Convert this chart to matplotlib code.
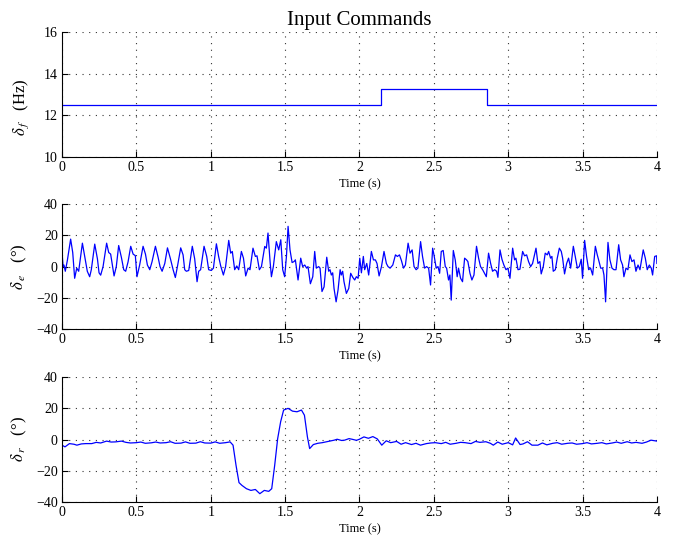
import matplotlib
matplotlib.use('Agg')
import matplotlib.pyplot as plt

plt.rcParams['font.family'] = ['Liberation Serif', 'DejaVu Serif']
plt.rcParams['mathtext.fontset'] = 'stix'

# flapping frequency command (Hz), a step input
t_f = [0.0, 2.143, 2.143, 2.86, 2.86, 4.0]
d_f = [12.5, 12.5, 13.27, 13.27, 12.5, 12.5]

# elevator command (deg)
t_e = [0.000, 0.007, 0.013, 0.022, 0.036, 0.058, 0.072, 0.085, 0.099, 0.112,
       0.137, 0.152, 0.170, 0.186, 0.197, 0.220, 0.238, 0.249, 0.260, 0.276,
       0.300, 0.314, 0.327, 0.350, 0.365, 0.381, 0.399, 0.415, 0.428, 0.444,
       0.462, 0.478, 0.493, 0.504, 0.522, 0.545, 0.561, 0.574, 0.590, 0.605,
       0.628, 0.646, 0.659, 0.673, 0.691, 0.709, 0.729, 0.747, 0.762, 0.776,
       0.798, 0.814, 0.825, 0.836, 0.852, 0.876, 0.892, 0.908, 0.919, 0.932,
       0.955, 0.973, 0.986, 1.004, 1.018, 1.038, 1.053, 1.067, 1.085, 1.100,
       1.121, 1.134, 1.145, 1.161, 1.175, 1.188, 1.206, 1.220, 1.235, 1.251,
       1.264, 1.284, 1.300, 1.311, 1.327, 1.341, 1.363, 1.374, 1.385, 1.399,
       1.408, 1.421, 1.441, 1.457, 1.471, 1.484, 1.497, 1.509, 1.520, 1.533,
       1.547, 1.560, 1.569, 1.587, 1.605, 1.618, 1.632, 1.645, 1.654, 1.670,
       1.686, 1.699, 1.710, 1.726, 1.735, 1.748, 1.762, 1.780, 1.793, 1.802,
       1.811, 1.820, 1.829, 1.843, 1.856, 1.870, 1.878, 1.887, 1.896, 1.912,
       1.928, 1.941, 1.955, 1.968, 1.979, 1.991, 2.002, 2.013, 2.026, 2.035,
       2.049, 2.062, 2.080, 2.094, 2.107, 2.118, 2.132, 2.148, 2.165, 2.181,
       2.192, 2.206, 2.224, 2.242, 2.255, 2.269, 2.282, 2.296, 2.309, 2.327,
       2.340, 2.354, 2.367, 2.381, 2.393, 2.411, 2.424, 2.438, 2.451, 2.465,
       2.478, 2.492, 2.501, 2.516, 2.528, 2.539, 2.550, 2.563, 2.577, 2.586,
       2.599, 2.608, 2.617, 2.631, 2.644, 2.657, 2.666, 2.680, 2.693, 2.707,
       2.720, 2.729, 2.743, 2.756, 2.770, 2.787, 2.801, 2.814, 2.828, 2.841,
       2.853, 2.868, 2.882, 2.895, 2.909, 2.922, 2.931, 2.945, 2.958, 2.971,
       2.985, 2.998, 3.012, 3.030, 3.043, 3.052, 3.066, 3.079, 3.097, 3.110,
       3.124, 3.137, 3.151, 3.164, 3.187, 3.200, 3.213, 3.222, 3.236, 3.249,
       3.263, 3.272, 3.285, 3.294, 3.303, 3.317, 3.330, 3.344, 3.357, 3.366,
       3.379, 3.393, 3.406, 3.420, 3.438, 3.451, 3.465, 3.478, 3.491, 3.500,
       3.514, 3.527, 3.541, 3.554, 3.568, 3.586, 3.599, 3.608, 3.622, 3.635,
       3.644, 3.655, 3.671, 3.684, 3.698, 3.711, 3.725, 3.743, 3.756, 3.769,
       3.778, 3.792, 3.805, 3.819, 3.832, 3.846, 3.859, 3.873, 3.886, 3.908,
       3.922, 3.935, 3.949, 3.962, 3.971, 3.985, 3.998, 4.000]
d_e = [9.7, 0.0, 1.0, -3.0, 4.0, 17.6, 9.0, -7.5, -1.0, -3.0,
       15.0, 7.0, -3.0, -6.5, -2.0, 14.4, 5.0, -4.0, -5.5, 0.0,
       15.0, 9.0, 8.0, -6.0, 0.0, 13.5, 6.0, -2.0, -3.0, 3.0,
       13.0, 8.0, 7.0, -6.5, 1.0, 13.0, 8.0, 1.0, -2.0, 3.0,
       13.0, 6.0, 0.0, -3.0, 2.0, 12.0, 5.0, -2.0, -7.0, 0.0,
       12.0, 7.5, -2.0, -3.0, -2.5, 13.0, 5.0, -9.7, -3.0, -2.0,
       13.0, 6.5, -2.0, -2.5, -1.0, 14.6, 6.5, 0.4, -5.4, 0.0,
       16.8, 8.6, 9.7, -2.0, 0.4, -2.0, 9.7, 5.4, -6.0, -1.0,
       -2.0, 11.8, 6.5, 6.9, -2.0, 0.0, 12.9, 11.8, 21.5, 3.2,
       -6.5, 0.0, 16.0, 10.7, 17.2, -2.0, -6.5, 6.5, 25.8, 10.7,
       2.6, 3.2, 4.3, -8.6, 5.4, 0.0, 1.0, -1.0, 0.0, -11.0,
       -6.5, 9.7, -1.0, 0.0, -1.0, -16.0, -13.0, 6.0, -3.0, -2.0,
       -5.4, -4.0, -14.0, -22.6, -15.0, -2.0, -5.4, -3.0, -9.7, -17.2,
       -14.0, -4.3, -6.9, -8.6, -6.5, -7.5, 5.4, -4.0, 6.5, -2.0,
       2.0, -5.4, 9.7, 4.3, 4.3, 2.0, -6.0, 0.0, 9.7, 2.0,
       0.0, -1.0, 1.0, 7.5, 6.5, 7.5, 3.9, -1.0, 1.0, 15.0,
       8.6, 10.7, 0.0, -2.0, -1.0, 16.0, 6.5, -1.0, 0.0, -1.0,
       -11.8, 11.8, 7.5, -1.0, 0.0, -4.3, 9.7, 10.3, 0.0, -1.0,
       -8.6, -5.4, -21.5, 10.3, 4.3, -6.5, -1.0, -7.5, -9.7, 5.4,
       4.3, 3.2, -4.3, -8.6, -5.4, 13.0, 5.4, 0.0, -2.0, -4.3,
       -6.5, 8.6, 2.0, -3.0, -2.0, -3.0, -6.9, 10.7, 4.7, 1.0,
       -2.0, -1.0, -7.5, 11.8, 4.3, 5.4, -2.0, -1.7, 9.7, 6.9,
       7.5, 3.2, 0.0, 2.0, 11.8, 2.0, 3.2, -4.7, 0.0, 8.6,
       7.5, 9.7, 5.4, 6.5, -3.0, -2.0, 5.4, 11.8, 9.7, 5.4,
       -4.7, 2.0, 5.4, -1.0, 13.0, 6.5, -1.0, 0.0, 4.7, -7.5,
       16.8, 6.5, -2.0, -1.0, -5.4, 13.0, 7.5, 4.3, -1.0, -1.0,
       -5.4, -22.6, 15.5, 4.3, -1.0, -2.0, -2.0, 14.0, 4.3, 1.0,
       -6.5, -1.0, -2.0, 7.5, 3.2, 4.3, -3.0, 1.0, -2.0, 10.7,
       5.4, -2.0, 1.0, -1.0, -5.4, 6.5, 6.9, 2.0]

# rudder command (deg)
t_r = [0.0, 0.02, 0.05, 0.08, 0.1, 0.13, 0.16, 0.2, 0.23, 0.26,
       0.3, 0.33, 0.36, 0.4, 0.43, 0.46, 0.5, 0.53, 0.56, 0.6,
       0.63, 0.66, 0.7, 0.73, 0.76, 0.8, 0.83, 0.86, 0.9, 0.93,
       0.96, 1.0, 1.03, 1.06, 1.1, 1.13, 1.15, 1.17, 1.19, 1.21,
       1.24, 1.27, 1.30, 1.33, 1.36, 1.39, 1.41, 1.43, 1.45, 1.47,
       1.49, 1.52, 1.55, 1.58, 1.61, 1.63, 1.65, 1.665, 1.69, 1.72,
       1.75, 1.78, 1.8, 1.83, 1.85, 1.88, 1.9, 1.93, 1.95, 1.98,
       2.0, 2.03, 2.06, 2.09, 2.12, 2.15, 2.18, 2.21, 2.25, 2.28,
       2.31, 2.35, 2.38, 2.41, 2.45, 2.48, 2.51, 2.55, 2.58, 2.61,
       2.65, 2.68, 2.71, 2.75, 2.78, 2.81, 2.85, 2.88, 2.9, 2.93,
       2.96, 3.0, 3.03, 3.05, 3.08, 3.1, 3.13, 3.16, 3.2, 3.23,
       3.26, 3.3, 3.33, 3.36, 3.4, 3.43, 3.46, 3.5, 3.53, 3.56,
       3.6, 3.63, 3.66, 3.7, 3.73, 3.76, 3.8, 3.83, 3.86, 3.9,
       3.93, 3.96, 4.0]
d_r = [-3.6, -4.7, -2.6, -3.0, -3.6, -2.8, -2.6, -2.6, -1.8, -2.2,
       -1.0, -1.6, -1.5, -1.0, -1.8, -2.2, -2.0, -1.6, -2.4, -2.1,
       -1.6, -2.2, -2.0, -1.4, -2.4, -2.3, -1.5, -2.4, -2.3, -1.4,
       -2.2, -2.3, -1.5, -2.4, -2.0, -1.5, -3.6, -16.5, -27.6, -29.4,
       -31.5, -32.6, -32.0, -34.7, -32.6, -33.2, -31.5, -16.5, 0.6, 11.4,
       18.9, 20.0, 18.2, 17.8, 18.9, 15.6, 1.7, -5.8, -3.2, -2.4,
       -2.0, -1.4, -1.0, -0.4, 0.2, -0.6, -0.4, 0.6, 0.2, -0.5,
       0.2, 1.7, 0.8, 1.9, 0.4, -3.6, -0.8, -2.0, -1.2, -3.0,
       -2.0, -3.2, -2.4, -3.6, -2.6, -2.2, -2.0, -2.6, -1.8, -3.0,
       -2.4, -1.8, -2.0, -2.6, -1.2, -1.8, -1.4, -2.4, -3.6, -1.6,
       -3.0, -2.0, -3.4, 1.0, -3.2, -2.8, -1.4, -3.6, -3.6, -2.2,
       -3.4, -2.4, -2.0, -3.0, -2.4, -2.2, -3.0, -2.6, -2.0, -2.8,
       -2.4, -2.0, -2.8, -2.2, -1.6, -2.4, -1.4, -2.2, -1.8, -2.4,
       -1.6, -0.4, -1.0]

xticks = [0, 0.5, 1, 1.5, 2, 2.5, 3, 3.5, 4]
xticklabels = ['0', '0.5', '1', '1.5', '2', '2.5', '3', '3.5', '4']

fig = plt.figure(figsize=(6.83, 5.38), dpi=100)
left, width = 0.0908, 0.871
bottoms = [0.708, 0.3885, 0.067]
height = 0.232

panels = [
    (t_f, d_f, [10, 16], [10, 12, 14, 16], r'$\delta_{\,f}$   (Hz)'),
    (t_e, d_e, [-40, 40], [-40, -20, 0, 20, 40], r'$\delta_{\,e}$   (°)'),
    (t_r, d_r, [-40, 40], [-40, -20, 0, 20, 40], r'$\delta_{\,r}$   (°)'),
]

axes = []
for b, (t, d, ylim, yticks, ylab) in zip(bottoms, panels):
    ax = fig.add_axes([left, b, width, height])
    ax.plot(t, d, color='#0000ff', lw=0.9)
    ax.set_xlim(0, 4)
    ax.set_ylim(*ylim)
    ax.set_xticks(xticks)
    ax.set_xticklabels(xticklabels)
    ax.set_yticks(yticks)
    ax.set_yticklabels([str(v).replace('-', '\u2212') for v in yticks])
    ax.grid(True, linestyle=(0, (1, 5)), color='#333333', lw=0.8)
    ax.spines['top'].set_visible(False)
    ax.spines['right'].set_visible(False)
    ax.tick_params(direction='in', length=4, labelsize=10, pad=3)
    ax.set_xlabel('Time (s)', fontsize=9, labelpad=3)
    ax.set_ylabel(ylab, fontsize=12, labelpad=5)
    axes.append(ax)

# the first label sits a little low in the original
axes[0].yaxis.set_label_coords(-0.052, 0.4)
axes[0].set_title('Input Commands', fontsize=15, pad=5)

fig.savefig('out.png', dpi=100)
